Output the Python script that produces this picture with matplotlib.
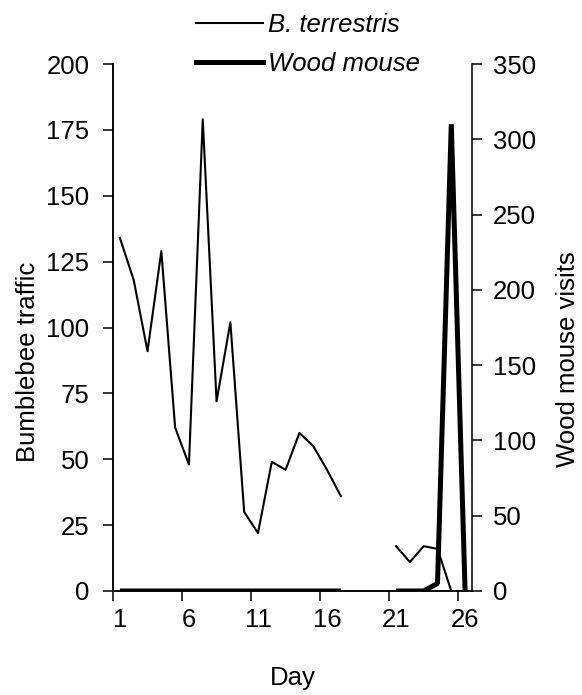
import numpy as np
import matplotlib
matplotlib.use("Agg")
import matplotlib.pyplot as plt
from matplotlib.lines import Line2D

plt.rcParams['font.family'] = ['Liberation Sans', 'DejaVu Sans']

days = list(range(1, 27))
bee_traffic = [134, 118, 91, 129, 62, 48, 179, 72, 102, 30, 22, 49, 46, 60, 55, 46, 36,
               np.nan, np.nan, np.nan,
               17, 11, 17, 16, 0, 0]
mouse_visits = [0, 0, 0, 0, 0, 0, 0, 0, 0, 0, 0, 0, 0, 0, 0, 0, 0,
                np.nan, np.nan, np.nan,
                0, 0, 0, 5, 310, 0]
tick_days = [1, 6, 11, 16, 21, 26]
left_ticks = [0, 25, 50, 75, 100, 125, 150, 175, 200]
right_ticks = [0, 50, 100, 150, 200, 250, 300, 350]
series_names = ["B. terrestris", "Wood mouse"]

FS = 18.5
W, H = 582, 695
fig = plt.figure(figsize=(W / 100, H / 100), dpi=100)
ax = fig.add_axes([113 / W, 1 - 591 / H, (472 - 113) / W, (591 - 64) / H])
ax2 = ax.twinx()

ax.plot(days, bee_traffic, color='black', lw=1.5, zorder=3)
ax2.plot(days, mouse_visits, color='black', lw=3.6, solid_joinstyle='bevel',
         solid_capstyle='butt', zorder=3)

ax.set_xlim(0.5, 26.5)
ax.set_ylim(0, 200)
ax2.set_ylim(0, 350)

# category style x axis: tick marks between categories, labels on centres
ax.set_xticks([d - 0.5 for d in tick_days])
ax.set_xticklabels([])
ax.set_xticks(tick_days, minor=True)
ax.set_xticklabels([str(d) for d in tick_days], minor=True, fontsize=FS)
ax.tick_params(axis='x', which='minor', length=0, pad=12)
ax.tick_params(axis='x', which='major', length=7, width=1.1, direction='out')

ax.set_yticks(left_ticks)
ax.set_yticklabels([str(v) for v in left_ticks], fontsize=FS)
ax.tick_params(axis='y', length=7, width=1.1, direction='out', pad=10)
ax2.set_yticks(right_ticks)
ax2.set_yticklabels([str(v) for v in right_ticks], fontsize=FS)
ax2.tick_params(axis='y', length=7, width=1.1, direction='out', pad=8)

for a in (ax, ax2):
    a.spines['top'].set_visible(False)
    for s in ('left', 'right', 'bottom'):
        a.spines[s].set_linewidth(1.1)
ax.spines['right'].set_visible(False)

ax.set_ylabel("Bumblebee traffic", fontsize=FS, va='center')
ax.yaxis.set_label_coords(-0.237, 0.435)
ax2.set_ylabel("Wood mouse visits", fontsize=FS, va='center')
ax2.yaxis.set_label_coords(1.267, 0.44)
ax.set_xlabel("Day", fontsize=FS, labelpad=25)

handles = [Line2D([], [], color='black', lw=1.5),
           Line2D([], [], color='black', lw=3.6)]
fig.legend(handles, series_names, loc='upper left',
           bbox_to_anchor=(186 / W, 1 - 3 / H), frameon=False,
           prop={'size': FS, 'style': 'italic'}, handlelength=2.6,
           handletextpad=0.2, labelspacing=0.58, borderaxespad=0.0)

fig.savefig("out.png", dpi=100)
